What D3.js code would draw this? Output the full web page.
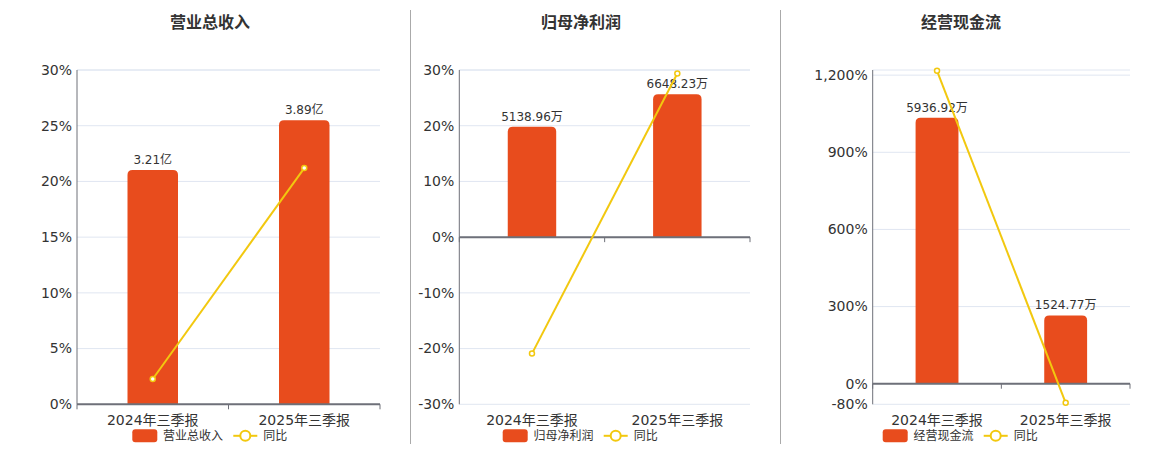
<!DOCTYPE html>
<html><head><meta charset="utf-8">
<script src="https://cdn.jsdelivr.net/npm/d3@7/dist/d3.min.js"></script>
<style>
html,body{margin:0;padding:0;background:#fff;}
svg{display:block;font-family:"DejaVu Sans","Noto Sans CJK SC",sans-serif;}
</style></head>
<body>
<svg id="c" width="1160" height="450"></svg>
<script>
// ---- data ----
const categories = ["2024年三季报", "2025年三季报"];
const titles = ["营业总收入", "归母净利润", "经营现金流"];
const revenue = [3.21, 3.89];
const revenueLabels = ["3.21亿", "3.89亿"];
const revenueYoY = [2.27, 21.2];
const profit = [5138.96, 6648.23];
const profitLabels = ["5138.96万", "6648.23万"];
const profitYoY = [-20.9, 29.37];
const cash = [5936.92, 1524.77];
const cashLabels = ["5936.92万", "1524.77万"];
const cashYoY = [1217, -74.3];
const revenueTicks = [0, 5, 10, 15, 20, 25, 30];
const profitTicks = [-30, -20, -10, 0, 10, 20, 30];
const cashTicks = [-80, 0, 300, 600, 900, 1200];
const yoyName = "同比";

// ---- style / layout ----
const BAR = "#E84C1D", LINE = "#F2C80F", GRID = "#E0E6F1", AXIS = "#6E7079", TXT = "#333";
const svg = d3.select("#c");
const panels = [
  {x0: 77, x1: 380, cx: 210, legX: 132.3, bars: revenue, labels: revenueLabels, yoy: revenueYoY,
   ticks: revenueTicks, yDom: [0, 30], barDom: [0, 4.58]},
  {x0: 459.3, x1: 750, cx: 581, legX: 502.7, bars: profit, labels: profitLabels, yoy: profitYoY,
   ticks: profitTicks, yDom: [-30, 30], barDom: [-7778, 7778]},
  {x0: 872.7, x1: 1130, cx: 961, legX: 882.7, bars: cash, labels: cashLabels, yoy: cashYoY,
   ticks: cashTicks, yDom: [-80, 1220], barDom: [-7000 * 80 / 1220, 7000]}
];
const yTop = 70, yBot = 404.3;

// dividers
[410.5, 780.5].forEach(x => svg.append("line").attr("x1", x).attr("x2", x).attr("y1", 10).attr("y2", 444)
  .attr("stroke", "#aaa").attr("stroke-width", 1));

const fmt = v => d3.format(",")(v).replace("\u2212", "-");

panels.forEach((p, i) => {
  const g = svg.append("g");
  const x = d3.scaleBand().domain(categories).range([p.x0, p.x1]);
  const y = d3.scaleLinear().domain(p.yDom).range([yBot, yTop]);
  const yb = d3.scaleLinear().domain(p.barDom).range([yBot, yTop]);

  // title
  g.append("text").attr("x", p.cx).attr("y", 28).attr("text-anchor", "middle")
    .attr("font-size", 16).attr("font-weight", "bold").attr("fill", TXT)
    .attr("font-family", "'Noto Sans CJK SC',sans-serif").text(titles[i]);

  // grid
  const gridVals = p.ticks.concat([p.yDom[1]]);
  g.selectAll(".grid").data(gridVals).join("line")
    .attr("x1", p.x0).attr("x2", p.x1).attr("y1", d => y(d)).attr("y2", d => y(d))
    .attr("stroke", GRID).attr("stroke-width", 1);

  // y labels
  g.selectAll(".yl").data(p.ticks).join("text")
    .attr("x", p.x0 - 5).attr("y", d => y(d)).attr("dy", "0.35em").attr("text-anchor", "end")
    .attr("font-size", 14).attr("fill", TXT).text(d => fmt(d) + "%");

  // bars with rounded top corners
  const bw = x.bandwidth() / 3, r = 5;
  g.selectAll(".bar").data(p.bars).join("path")
    .attr("fill", BAR)
    .attr("d", (d, j) => {
      const cx = x(categories[j]) + x.bandwidth() / 2;
      const l = cx - bw / 2, rr = cx + bw / 2, t = yb(d), b = yb(0);
      return `M${l},${b}V${t + r}Q${l},${t} ${l + r},${t}H${rr - r}Q${rr},${t} ${rr},${t + r}V${b}Z`;
    });

  // bar labels
  g.selectAll(".bl").data(p.bars).join("text")
    .attr("x", (d, j) => x(categories[j]) + x.bandwidth() / 2).attr("y", d => yb(d) - 6)
    .attr("text-anchor", "middle").attr("font-size", 12).attr("fill", TXT)
    .text((d, j) => p.labels[j]);

  // axes
  g.append("line").attr("x1", p.x0).attr("x2", p.x0).attr("y1", yTop).attr("y2", yBot)
    .attr("stroke", AXIS).attr("stroke-width", 1);
  const zy = y(Math.max(0, p.yDom[0]));
  g.append("line").attr("x1", p.x0).attr("x2", p.x1).attr("y1", zy).attr("y2", zy)
    .attr("stroke", AXIS).attr("stroke-width", 2);
  const tickX = [p.x0, p.x0 + x.bandwidth(), p.x1];
  g.selectAll(".tk").data(tickX).join("line")
    .attr("x1", d => d).attr("x2", d => d).attr("y1", zy).attr("y2", zy + 5)
    .attr("stroke", AXIS).attr("stroke-width", 1);

  // x labels
  g.selectAll(".xl").data(categories).join("text")
    .attr("x", d => x(d) + x.bandwidth() / 2).attr("y", 425)
    .attr("text-anchor", "middle").attr("font-size", 14).attr("fill", TXT).text(d => d);

  // line
  const line = d3.line().x((d, j) => x(categories[j]) + x.bandwidth() / 2).y(d => y(d));
  g.append("path").datum(p.yoy).attr("d", line).attr("fill", "none")
    .attr("stroke", LINE).attr("stroke-width", 2);
  g.selectAll(".pt").data(p.yoy).join("circle")
    .attr("cx", (d, j) => x(categories[j]) + x.bandwidth() / 2).attr("cy", d => y(d))
    .attr("r", 2.5).attr("fill", "#fff").attr("stroke", LINE).attr("stroke-width", 1.5);

  // legend
  const ly = 435.8, lx = p.legX;
  g.append("rect").attr("x", lx).attr("y", ly - 6.5).attr("width", 25).attr("height", 13).attr("rx", 3)
    .attr("fill", BAR);
  g.append("text").attr("x", lx + 30.7).attr("y", ly).attr("dy", "0.35em").attr("font-size", 12)
    .attr("fill", TXT).text(titles[i]);
  g.append("line").attr("x1", lx + 101).attr("x2", lx + 125).attr("y1", ly).attr("y2", ly)
    .attr("stroke", LINE).attr("stroke-width", 2);
  g.append("circle").attr("cx", lx + 113).attr("cy", ly).attr("r", 5).attr("fill", "#fff")
    .attr("stroke", LINE).attr("stroke-width", 2);
  g.append("text").attr("x", lx + 131).attr("y", ly).attr("dy", "0.35em").attr("font-size", 12)
    .attr("fill", TXT).text(yoyName);
});
</script>
</body></html>
